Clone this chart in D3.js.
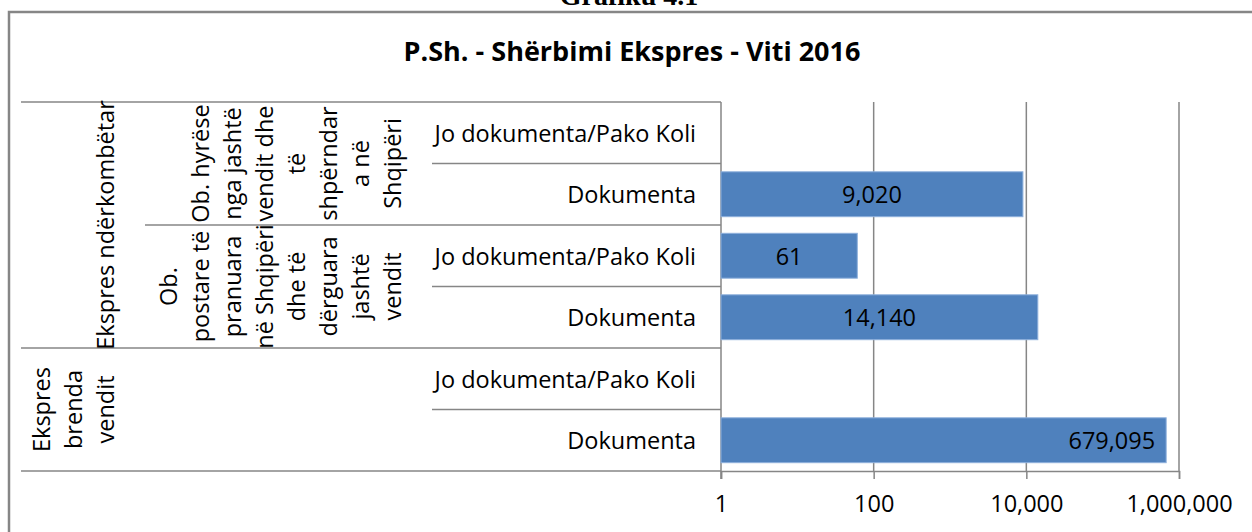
<!DOCTYPE html>
<html>
<head>
<meta charset="utf-8">
<script src="https://cdn.jsdelivr.net/npm/d3@7"></script>
<style>
  body { margin: 0; background: #fff; }
  svg { display: block; font-family: "Open Sans", sans-serif; }
</style>
</head>
<body>
<svg id="chart" width="1252" height="532"></svg>
<script>
// categories, top row first
const rowLabels = ["Jo dokumenta/Pako Koli", "Dokumenta", "Jo dokumenta/Pako Koli", "Dokumenta", "Jo dokumenta/Pako Koli", "Dokumenta"];
const values = [null, 9020, 61, 14140, null, 679095];

// second level (rotated, wrapped as in the picture)
const subGroups = [
  { rows: [0, 1], lines: ["Ob. hyrëse", "nga jashtë", "vendit dhe", "të", "shpërndar", "a në", "Shqipëri"] },
  { rows: [2, 3], lines: ["Ob.", "postare të", "pranuara", "në Shqipëri", "dhe të", "dërguara", "jashtë", "vendit"] },
  { rows: [4, 5], lines: [] }
];
// outer level
const groups = [
  { rows: [0, 3], lines: ["Ekspres ndërkombëtar"] },
  { rows: [4, 5], lines: ["Ekspres", "brenda", "vendit"] }
];
const tickValues = [1, 100, 10000, 1000000];

const title = "P.Sh. - Shërbimi Ekspres - Viti 2016";
const caption = "Grafiku 4.1";

const svg = d3.select("#chart");
const lineColor = "#868686";
const fs = 23.5;

// figure caption (cut off at the top edge)
svg.append("text")
  .attr("x", 629).attr("y", 5)
  .attr("text-anchor", "middle")
  .style("font-family", "'Liberation Serif', serif")
  .style("font-weight", "bold")
  .style("font-size", "28px")
  .text(caption);

// chart frame
svg.append("rect")
  .attr("x", 9).attr("y", 12)
  .attr("width", 1270).attr("height", 560)
  .attr("fill", "none")
  .attr("stroke", lineColor)
  .attr("stroke-width", 2.5);

svg.append("text")
  .attr("x", 632).attr("y", 50)
  .attr("text-anchor", "middle")
  .attr("dominant-baseline", "central")
  .style("font-weight", "bold")
  .style("font-size", "27px")
  .text(title);

// scales
const x = d3.scaleLog().domain([1, 1000000]).range([721, 1179]);
const y = d3.scaleBand()
  .domain(d3.range(rowLabels.length))
  .range([102, 471])
  .paddingInner(0.27)
  .paddingOuter(0.135);
const step = y.step();
const rowTop = i => 102 + i * step;

// gridlines
svg.append("g")
  .selectAll("line")
  .data(tickValues.slice(1))
  .join("line")
  .attr("x1", d => x(d)).attr("x2", d => x(d))
  .attr("y1", 102).attr("y2", 471)
  .attr("stroke", lineColor).attr("stroke-width", 1.5);

// x axis
const xAxis = svg.append("g")
  .attr("transform", "translate(0,471)")
  .call(d3.axisBottom(x).tickValues(tickValues).tickSize(8).tickPadding(16).tickFormat(d3.format(",")));
xAxis.select(".domain").attr("stroke", lineColor).attr("stroke-width", 1.5);
xAxis.selectAll(".tick line").attr("stroke", lineColor).attr("stroke-width", 1.5);
xAxis.selectAll(".tick text")
  .attr("fill", "#000")
  .style("font-size", fs + "px")
  .style("font-family", "'Open Sans', sans-serif");

// category axis line
svg.append("line")
  .attr("x1", 721).attr("x2", 721)
  .attr("y1", 102).attr("y2", 479)
  .attr("stroke", lineColor).attr("stroke-width", 1.5);

// separators between the category boxes
const seps = [];
for (let i = 0; i <= rowLabels.length; i++) {
  let x0 = 432;
  if (groups.some(g => g.rows[0] === i || g.rows[1] + 1 === i)) x0 = 21;
  else if (subGroups.some(g => g.rows[0] === i)) x0 = 145;
  seps.push({ y: rowTop(i), x0 });
}
svg.append("g")
  .selectAll("line")
  .data(seps)
  .join("line")
  .attr("x1", d => d.x0).attr("x2", 721)
  .attr("y1", d => d.y).attr("y2", d => d.y)
  .attr("stroke", lineColor).attr("stroke-width", 1.5);

// row labels
svg.append("g")
  .selectAll("text")
  .data(rowLabels)
  .join("text")
  .attr("x", 696)
  .attr("y", (d, i) => y(i) + y.bandwidth() / 2)
  .attr("text-anchor", "end")
  .attr("dominant-baseline", "central")
  .style("font-size", fs + "px")
  .text(d => d);

// rotated group labels
function rotatedLabels(list, anchorX) {
  const lh = 32;
  list.forEach(g => {
    const cy = (rowTop(g.rows[0]) + rowTop(g.rows[1] + 1)) / 2;
    const n = g.lines.length;
    svg.append("g")
      .selectAll("text")
      .data(g.lines)
      .join("text")
      .attr("transform", (d, i) => `translate(${anchorX - (n - 1 - i) * lh},${cy}) rotate(-90)`)
      .attr("text-anchor", "middle")
      .attr("dominant-baseline", "central")
      .style("font-size", fs + "px")
      .text(d => d);
  });
}
rotatedLabels(subGroups, 392);
rotatedLabels(groups, 105);

// bars
const barData = values.map((v, i) => ({ v, i })).filter(d => d.v != null);
const maxV = d3.max(values);
svg.append("g")
  .selectAll("rect")
  .data(barData)
  .join("rect")
  .attr("x", x(1))
  .attr("y", d => y(d.i))
  .attr("width", d => x(d.v) - x(1))
  .attr("height", y.bandwidth())
  .attr("fill", "#4f81bd")
  .attr("stroke", "#8eb0dc")
  .attr("stroke-width", 1);

svg.append("g")
  .selectAll("text")
  .data(barData)
  .join("text")
  .attr("x", d => d.v === maxV ? x(d.v) - 11 : (x(1) + x(d.v)) / 2)
  .attr("y", d => y(d.i) + y.bandwidth() / 2)
  .attr("text-anchor", d => d.v === maxV ? "end" : "middle")
  .attr("dominant-baseline", "central")
  .style("font-size", fs + "px")
  .text(d => d3.format(",")(d.v));
</script>
</body>
</html>
